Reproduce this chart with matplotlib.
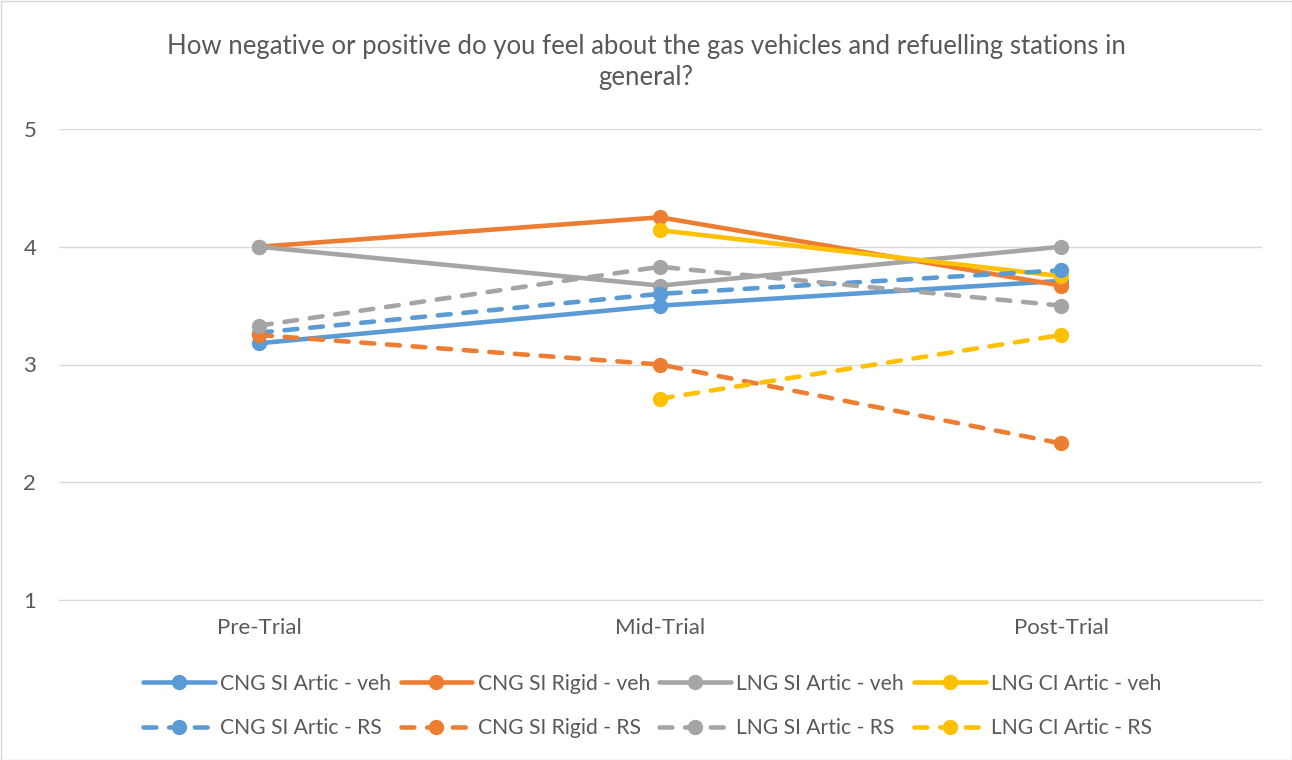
import numpy as np
import matplotlib
matplotlib.use("Agg")
import matplotlib.pyplot as plt
from matplotlib.patches import Rectangle

categories = ["Pre-Trial", "Mid-Trial", "Post-Trial"]
title = "How negative or positive do you feel about the gas vehicles and refuelling stations in\ngeneral?"

cng_si_artic_veh = [3.18, 3.50, 3.71]
cng_si_rigid_veh = [4.00, 4.25, 3.67]
lng_si_artic_veh = [4.00, 3.67, 4.00]
lng_ci_artic_veh = [np.nan, 4.14, 3.75]
cng_si_artic_rs = [3.27, 3.60, 3.80]
cng_si_rigid_rs = [3.25, 3.00, 2.33]
lng_si_artic_rs = [3.33, 3.83, 3.50]
lng_ci_artic_rs = [np.nan, 2.71, 3.25]

DASH = (0, (2.8, 2.8))
series = [
    ("CNG SI Artic - veh", cng_si_artic_veh, "#5B9BD5", "-"),
    ("CNG SI Rigid - veh", cng_si_rigid_veh, "#ED7D31", "-"),
    ("LNG SI Artic - veh", lng_si_artic_veh, "#A5A5A5", "-"),
    ("LNG CI Artic - veh", lng_ci_artic_veh, "#FFC000", "-"),
    ("CNG SI Artic - RS", cng_si_artic_rs, "#5B9BD5", DASH),
    ("CNG SI Rigid - RS", cng_si_rigid_rs, "#ED7D31", DASH),
    ("LNG SI Artic - RS", lng_si_artic_rs, "#A5A5A5", DASH),
    ("LNG CI Artic - RS", lng_ci_artic_rs, "#FFC000", DASH),
]

plt.rcParams['font.family'] = ['Lato', 'DejaVu Sans']
fig = plt.figure(figsize=(12.92, 7.6), dpi=100)
ax = fig.add_axes([58.5/1292, 1 - 600/760, 1203/1292, 471/760])

x = np.arange(len(categories))
handles = []
for name, vals, col, ls in series:
    h, = ax.plot(x, vals, color=col, linestyle=ls, linewidth=3.3, marker='o',
                 markersize=10, label=name, solid_capstyle='round', dash_capstyle='round')
    handles.append(h)

ax.set_xlim(-0.5, 2.5)
ax.set_ylim(1, 5)
ax.set_yticks([1, 2, 3, 4, 5])
ax.set_xticks(x)
ax.set_xticklabels(categories)
ax.grid(axis='y', color='#D9D9D9', linewidth=1)
ax.set_axisbelow(True)
for s in ['top', 'right', 'left']:
    ax.spines[s].set_visible(False)
ax.spines['bottom'].set_color('#D9D9D9')
ax.tick_params(axis='both', length=0, labelsize=16, labelcolor='#595959')
ax.tick_params(axis='x', pad=13)
ax.tick_params(axis='y', pad=16)

fig.text(0.5, 1 - 62/760, title, ha='center', va='center', fontsize=18.5, color='#595959',
         linespacing=1.3)

order = [0, 4, 1, 5, 2, 6, 3, 7]
leg = fig.legend([handles[i] for i in order], [series[i][0] for i in order],
                 loc='center', bbox_to_anchor=(652/1292, 1 - 706/760), ncol=4, frameon=False,
                 fontsize=15.2, handlelength=3.4, columnspacing=0.45, handletextpad=0.25,
                 labelspacing=1.15, labelcolor='#595959')

fig.patches.append(Rectangle((0.5/1292, 0.5/760), 1 - 1/1292, 1 - 1/760, transform=fig.transFigure,
                             fill=False, edgecolor='#D9D9D9', linewidth=1))

fig.savefig("out.png", dpi=100)
